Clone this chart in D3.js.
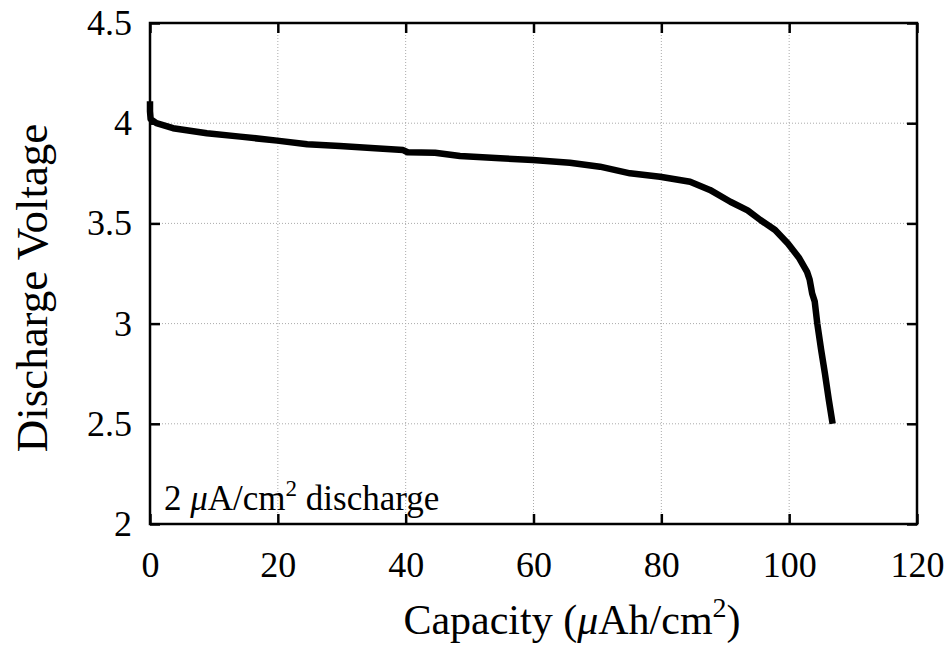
<!DOCTYPE html>
<meta charset="utf-8">
<style>
  body { margin: 0; background: #fff; }
  text { font-family: "Liberation Serif", "Times New Roman", serif; fill: #000; }
</style>
<svg id="chart" width="950" height="649"></svg>
<script src="https://cdn.jsdelivr.net/npm/d3@7"></script>
<script>

// capacity (uAh/cm2) and discharge voltage
var capacity = [0, 0, 0.1, 1, 3.6, 8.9, 14.1, 19.9, 24.6, 29.7, 35.2, 39.6, 40.3, 44.6, 48.5,
  54.8, 59.9, 65.7, 70.4, 75.1, 79.8, 84.5, 87.6, 90.8, 93.5, 95.5, 97.8, 99.8, 101.5,
  102.8, 103.2, 103.6, 104.0, 104.4, 105.0, 105.6, 106.2, 106.8];
var voltage = [4.11, 4.06, 4.02, 4.0, 3.975, 3.95, 3.933, 3.913, 3.895, 3.886, 3.875, 3.866, 3.855,
  3.853, 3.836, 3.825, 3.816, 3.803, 3.783, 3.75, 3.733, 3.708, 3.667, 3.608, 3.565, 3.517,
  3.467, 3.40, 3.33, 3.258, 3.22, 3.15, 3.11, 3.0, 2.87, 2.75, 2.62, 2.5];

var xTicks = [0, 20, 40, 60, 80, 100, 120];
var yTicks = [2, 2.5, 3, 3.5, 4, 4.5];

var svg = d3.select("#chart");
var pL = 150, pR = 917, pT = 23, pB = 524; // plot box

var x = d3.scaleLinear().domain([0, 120]).range([pL, pR]);
var y = d3.scaleLinear().domain([2, 4.5]).range([pB, pT]);

var pts = capacity.map(function(c, i) { return [c, voltage[i]]; });

// dotted grid
svg.append("g").selectAll("line")
  .data(xTicks.slice(1, -1))
  .enter().append("line")
    .attr("x1", function(d) { return x(d); }).attr("x2", function(d) { return x(d); })
    .attr("y1", pT).attr("y2", pB)
    .attr("stroke", "#aaa").attr("stroke-width", 1).attr("stroke-dasharray", "1,2");
svg.append("g").selectAll("line")
  .data(yTicks.slice(1, -1))
  .enter().append("line")
    .attr("y1", function(d) { return y(d); }).attr("y2", function(d) { return y(d); })
    .attr("x1", pL).attr("x2", pR)
    .attr("stroke", "#aaa").attr("stroke-width", 1).attr("stroke-dasharray", "1,2");

// axes, ticks pointing inward on all four sides
var fmt = function(d) { return String(d); };
var ax = [
  [d3.axisBottom(x).tickValues(xTicks).tickSize(-10).tickPadding(27).tickFormat(fmt), "translate(0," + pB + ")"],
  [d3.axisLeft(y).tickValues(yTicks).tickSize(-10).tickPadding(18).tickFormat(fmt), "translate(" + pL + ",0)"],
  [d3.axisTop(x).tickValues(xTicks).tickSize(-10).tickFormat(""), "translate(0," + pT + ")"],
  [d3.axisRight(y).tickValues(yTicks).tickSize(-10).tickFormat(""), "translate(" + pR + ",0)"]
];
ax.forEach(function(a) {
  var g = svg.append("g").attr("transform", a[1]).call(a[0]);
  g.select(".domain").remove();
  g.selectAll(".tick line").attr("stroke", "#000").attr("stroke-width", 2.5);
  g.selectAll(".tick text")
    .attr("fill", "#000")
    .style("font-family", "'Liberation Serif', serif")
    .style("font-size", "36px");
});

// frame
svg.append("rect")
  .attr("x", pL).attr("y", pT)
  .attr("width", pR - pL).attr("height", pB - pT)
  .attr("fill", "none").attr("stroke", "#000").attr("stroke-width", 2.5);

// discharge curve
svg.append("path")
  .datum(pts)
  .attr("fill", "none")
  .attr("stroke", "#000")
  .attr("stroke-width", 6.5)
  .attr("stroke-linejoin", "round")
  .attr("d", d3.line().x(function(d) { return x(d[0]); }).y(function(d) { return y(d[1]); }));

// annotation
var ann = svg.append("text").attr("x", 164).attr("y", 510).style("font-size", "35px");
ann.append("tspan").text("2 ");
ann.append("tspan").style("font-style", "italic").text("\u03bc");
ann.append("tspan").text("A/cm");
ann.append("tspan").attr("dy", -14).style("font-size", "23px").text("2");
ann.append("tspan").attr("dy", 14).text(" discharge");

// axis titles
var xt = svg.append("text").attr("x", 572).attr("y", 634)
  .attr("text-anchor", "middle").style("font-size", "42px");
xt.append("tspan").text("Capacity (");
xt.append("tspan").style("font-style", "italic").text("\u03bc");
xt.append("tspan").text("Ah/cm");
xt.append("tspan").attr("dy", -17).style("font-size", "28px").text("2");
xt.append("tspan").attr("dy", 17).text(")");

svg.append("text")
  .attr("transform", "translate(47,288) rotate(-90)")
  .attr("text-anchor", "middle")
  .style("font-size", "45px")
  .text("Discharge Voltage");

</script>
